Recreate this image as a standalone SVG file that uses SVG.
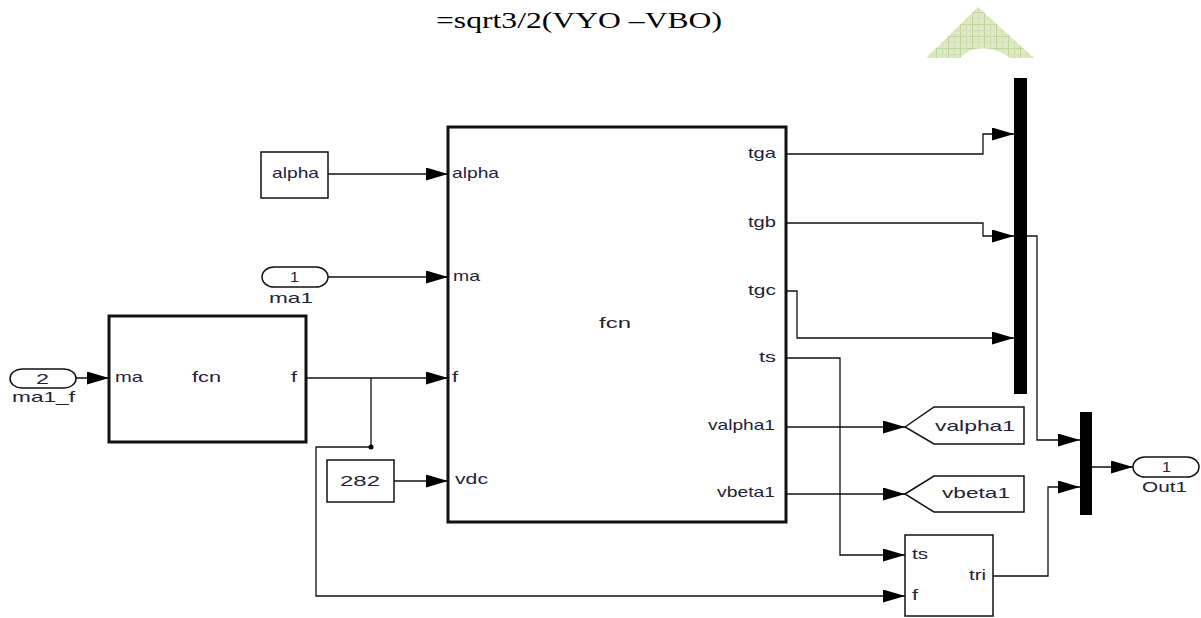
<svg xmlns="http://www.w3.org/2000/svg" width="1201" height="618" viewBox="0 0 1201 618">
<style>
.t{font-family:"Liberation Sans",Arial,sans-serif;font-size:15px;fill:#22223a}
.ttl{font-family:"Liberation Serif","Times New Roman",serif;font-size:24px;fill:#000}
.blk{fill:#fff;stroke:#111;stroke-width:1.5}
.thk{fill:#fff;stroke:#111;stroke-width:3}
.bus{fill:#000;stroke:none}
.w{fill:none;stroke:#111;stroke-width:1.3}
.a{marker-end:url(#ah)}
</style>
<defs>
<marker id="ah" markerUnits="userSpaceOnUse" markerWidth="23" markerHeight="14" refX="22" refY="6.5" orient="auto">
<path d="M0,0 L22,6.5 L0,13 Z" fill="#000"/>
</marker>
<pattern id="grid" patternUnits="userSpaceOnUse" width="12" height="12">
<rect width="12" height="12" fill="#dde9c6"/>
<path d="M0,0.5 H12 M0.5,0 V12" stroke="#bfd596" stroke-width="1"/>
<path d="M0,6.5 H12 M6.5,0 V12" stroke="#d0e0b0" stroke-width="1"/>
</pattern>
</defs>

<text class="ttl" x="436" y="28" textLength="286" lengthAdjust="spacingAndGlyphs">=sqrt3/2(VYO –VBO)</text>
<path d="M926,58 L978,7 L1034,58 L1010,58 C995,46 972,44 960,58 Z" fill="url(#grid)"/>

<g id="connectors">
<path class="w a" d="M328,174 H448"/>
<path class="w a" d="M328,277 H448"/>
<path class="w a" d="M76,378 H109"/>
<path class="w a" d="M306,378 H448"/>
<path class="w a" d="M371,378 V447 H316 V596 H905"/>
<circle cx="371" cy="447" r="2.5" fill="#000"/>
<path class="w a" d="M394,481 H448"/>
<path class="w a" d="M786,154 H983 V134 H1014"/>
<path class="w a" d="M786,223 H983 V236 H1014"/>
<path class="w a" d="M786,291 H797 V338 H1014"/>
<path class="w a" d="M786,358 H840 V555 H905"/>
<path class="w a" d="M786,427 H905"/>
<path class="w a" d="M786,494 H905"/>
<path class="w a" d="M1027,236 H1037 V440 H1080"/>
<path class="w a" d="M993,576 H1048 V487 H1080"/>
<path class="w a" d="M1092,467 H1133"/>
</g>

<g id="alpha_const">
<rect class="blk" x="261" y="152" width="67" height="46"/>
<text class="t" x="272" y="178" textLength="47" lengthAdjust="spacingAndGlyphs">alpha</text>
</g>

<g id="in_ma1">
<rect class="blk" x="262" y="267" width="66" height="20" rx="12" ry="10"/>
<text class="t" x="290" y="282" textLength="9" lengthAdjust="spacingAndGlyphs">1</text>
<text class="t" x="269" y="303" textLength="44" lengthAdjust="spacingAndGlyphs">ma1</text>
</g>

<g id="in_ma1_f">
<rect class="blk" x="10" y="369" width="66" height="19" rx="12" ry="9.5"/>
<text class="t" x="36" y="383.5" textLength="13" lengthAdjust="spacingAndGlyphs">2</text>
<text class="t" x="12" y="402" textLength="63" lengthAdjust="spacingAndGlyphs">ma1_f</text>
</g>

<g id="fcn_small">
<rect class="thk" x="109" y="316" width="197" height="126"/>
<text class="t" x="115" y="382" textLength="28" lengthAdjust="spacingAndGlyphs">ma</text>
<text class="t" x="192" y="382" textLength="29" lengthAdjust="spacingAndGlyphs">fcn</text>
<text class="t" x="291" y="382" textLength="6" lengthAdjust="spacingAndGlyphs">f</text>
</g>

<g id="const_282">
<rect class="blk" x="327" y="460" width="67" height="42"/>
<text class="t" x="340" y="486" textLength="40" lengthAdjust="spacingAndGlyphs">282</text>
</g>

<g id="fcn_main">
<rect class="thk" x="448" y="127" width="338" height="395"/>
<text class="t" x="452" y="178" textLength="47" lengthAdjust="spacingAndGlyphs">alpha</text>
<text class="t" x="453" y="281" textLength="27" lengthAdjust="spacingAndGlyphs">ma</text>
<text class="t" x="452" y="382" textLength="6" lengthAdjust="spacingAndGlyphs">f</text>
<text class="t" x="455" y="484" textLength="33" lengthAdjust="spacingAndGlyphs">vdc</text>
<text class="t" x="599" y="328" textLength="32" lengthAdjust="spacingAndGlyphs">fcn</text>
<text class="t" x="748" y="158" textLength="28" lengthAdjust="spacingAndGlyphs">tga</text>
<text class="t" x="748" y="227" textLength="28" lengthAdjust="spacingAndGlyphs">tgb</text>
<text class="t" x="748" y="295" textLength="28" lengthAdjust="spacingAndGlyphs">tgc</text>
<text class="t" x="759" y="362" textLength="17" lengthAdjust="spacingAndGlyphs">ts</text>
<text class="t" x="708" y="430" textLength="67" lengthAdjust="spacingAndGlyphs">valpha1</text>
<text class="t" x="717" y="497" textLength="58" lengthAdjust="spacingAndGlyphs">vbeta1</text>
</g>

<g id="bus1">
<rect class="bus" x="1014" y="78" width="13" height="316"/>
</g>

<g id="goto_valpha1">
<path class="blk" d="M905,427 L934,407 H1024 V444 H934 Z" stroke-width="1.3"/>
<text class="t" x="935" y="431" textLength="80" lengthAdjust="spacingAndGlyphs">valpha1</text>
</g>

<g id="goto_vbeta1">
<path class="blk" d="M905,494 L934,476 H1024 V512 H934 Z" stroke-width="1.3"/>
<text class="t" x="942" y="498" textLength="68" lengthAdjust="spacingAndGlyphs">vbeta1</text>
</g>

<g id="tri_block">
<rect class="blk" x="905" y="535" width="88" height="81"/>
<text class="t" x="912" y="559" textLength="16" lengthAdjust="spacingAndGlyphs">ts</text>
<text class="t" x="912" y="600" textLength="6" lengthAdjust="spacingAndGlyphs">f</text>
<text class="t" x="969" y="580" textLength="17" lengthAdjust="spacingAndGlyphs">tri</text>
</g>

<g id="mux2">
<rect class="bus" x="1080" y="412" width="12" height="103"/>
</g>

<g id="out1">
<rect class="blk" x="1133" y="457" width="66" height="20" rx="12" ry="10"/>
<text class="t" x="1162" y="471.5" textLength="9" lengthAdjust="spacingAndGlyphs">1</text>
<text class="t" x="1142" y="492" textLength="45" lengthAdjust="spacingAndGlyphs">Out1</text>
</g>
</svg>
